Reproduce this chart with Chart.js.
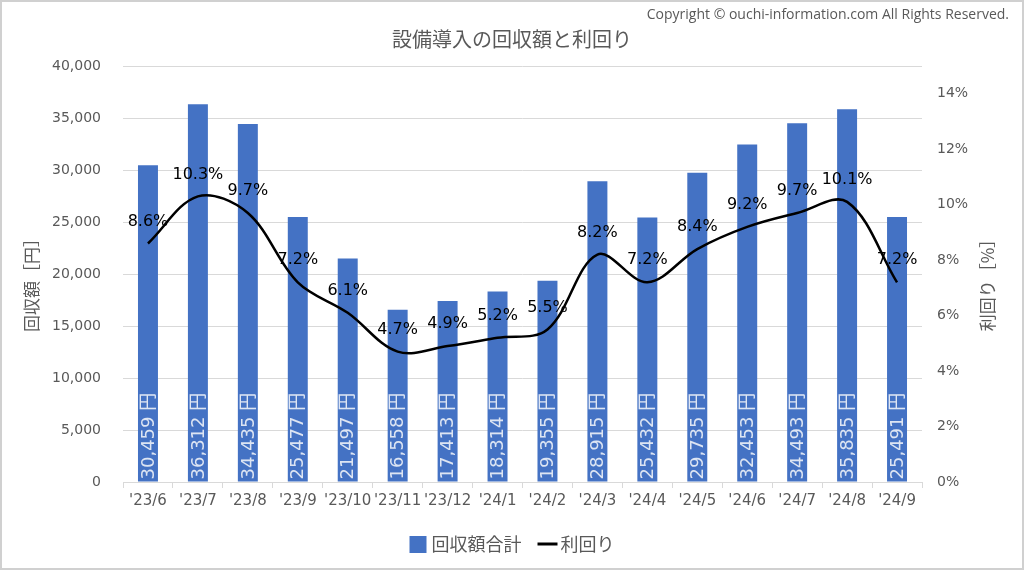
<!DOCTYPE html>
<html><head><meta charset="utf-8">
<script src="https://cdn.jsdelivr.net/npm/chart.js@4"></script>
<style>html,body{margin:0;padding:0;background:#fff}#wrap{width:1024px;height:570px;position:relative}</style>
</head><body><div id="wrap"><canvas id="c" width="1024" height="570"></canvas></div>
<script>
const categories = ["'23/6","'23/7","'23/8","'23/9","'23/10","'23/11","'23/12","'24/1","'24/2","'24/3","'24/4","'24/5","'24/6","'24/7","'24/8","'24/9"];
const recovery = [30459, 36312, 34435, 25477, 21497, 16558, 17413, 18314, 19355, 28915, 25432, 29735, 32453, 34493, 35835, 25491];
const yields = [8.6, 10.3, 9.7, 7.2, 6.1, 4.7, 4.9, 5.2, 5.5, 8.2, 7.2, 8.4, 9.2, 9.7, 10.1, 7.2];
const seriesNames = ['回収額合計', '利回り'];
const chartTitle = '設備導入の回収額と利回り';
const copyrightText = 'Copyright © ouchi-information.com All Rights Reserved.';
const leftTitle = '回収額［円］';
const rightTitle = '利回り［%］';

const NUM = '"DejaVu Sans", "Noto Sans CJK JP", sans-serif';
const JP = '"Noto Sans CJK JP", sans-serif';
const GREY = '#595959';
const BLUE = '#4472c4';

const decor = {
  id: 'decor',
  beforeDraw(chart) {
    const ctx = chart.ctx;
    ctx.save(); ctx.fillStyle = '#fff'; ctx.fillRect(0, 0, chart.width, chart.height); ctx.restore();
  },
  afterDatasetsDraw(chart) {
    const ctx = chart.ctx;
    ctx.save();
    const bm = chart.getDatasetMeta(0);
    ctx.font = '18px ' + NUM;
    ctx.fillStyle = '#dde5f3';
    ctx.textAlign = 'left';
    ctx.textBaseline = 'middle';
    bm.data.forEach((el, i) => {
      ctx.save();
      ctx.translate(el.x, el.base - 2);
      ctx.rotate(-Math.PI / 2);
      ctx.fillText(recovery[i].toLocaleString('en-US') + ' 円', 0, 1);
      ctx.restore();
    });
    const lm = chart.getDatasetMeta(1);
    ctx.font = '16px ' + NUM;
    ctx.fillStyle = '#000';
    ctx.textAlign = 'center';
    lm.data.forEach((p, i) => {
      ctx.fillText(yields[i].toFixed(1) + '%', p.x, p.y - 22);
    });
    ctx.restore();
  },
  afterDraw(chart) {
    const ctx = chart.ctx;
    ctx.save();
    ctx.fillStyle = GREY;
    ctx.textBaseline = 'middle';
    ctx.textAlign = 'center';
    ctx.font = '20px ' + JP;
    ctx.fillText(chartTitle, 512, 39);
    // axis titles (both read bottom-to-top)
    ctx.font = '17px ' + JP;
    [[leftTitle, 32], [rightTitle, 988]].forEach(([t, x]) => {
      ctx.save();
      ctx.translate(x, 281);
      ctx.rotate(-Math.PI / 2);
      ctx.fillText(t, 0, 0);
      ctx.restore();
    });
    ctx.textAlign = 'right';
    ctx.font = '14px "Open Sans", ' + JP;
    ctx.fillText(copyrightText, 1009, 15, 366);
    // legend
    ctx.font = '18px ' + JP;
    ctx.textAlign = 'left';
    const w1 = ctx.measureText(seriesNames[0]).width;
    const w2 = ctx.measureText(seriesNames[1]).width;
    const total = 17 + 5 + w1 + 16 + 20 + 3 + w2;
    let x = 512 - total / 2;
    const ly = 544;
    ctx.fillStyle = BLUE;
    ctx.fillRect(x, ly - 8, 17, 17);
    x += 22;
    ctx.fillStyle = GREY;
    ctx.fillText(seriesNames[0], x, ly);
    x += w1 + 16;
    ctx.strokeStyle = '#000'; ctx.lineWidth = 3;
    ctx.beginPath(); ctx.moveTo(x, ly); ctx.lineTo(x + 20, ly); ctx.stroke();
    x += 23;
    ctx.fillText(seriesNames[1], x, ly);
    // border
    ctx.strokeStyle = '#d0d0d0'; ctx.lineWidth = 2;
    ctx.strokeRect(1, 1, chart.width - 2, chart.height - 2);
    ctx.restore();
  }
};

new Chart(document.getElementById('c'), {
  data: {
    labels: categories,
    datasets: [
      { type: 'bar', label: seriesNames[0], data: recovery, backgroundColor: BLUE, yAxisID: 'y',
        categoryPercentage: 0.8, barPercentage: 0.5, order: 2 },
      { type: 'line', label: seriesNames[1], data: yields, borderColor: '#000', borderWidth: 2.5,
        tension: 0.35, pointRadius: 0, fill: false, yAxisID: 'y1', order: 1 }
    ]
  },
  options: {
    responsive: false, animation: false, devicePixelRatio: 1,
    layout: { padding: { top: 66, left: 0, right: 0, bottom: 0 } },
    plugins: { legend: { display: false }, title: { display: false }, tooltip: { enabled: false } },
    scales: {
      x: {
        offset: true,
        grid: { display: true, drawOnChartArea: false, drawTicks: true, tickLength: 6, color: '#d9d9d9', offset: true },
        border: { display: true, color: '#d9d9d9' },
        ticks: { color: GREY, font: { size: 15, family: NUM }, maxRotation: 0, minRotation: 0, autoSkip: false, padding: 4 },
        afterFit(s) { s.height = 88; }
      },
      y: {
        position: 'left', min: 0, max: 40000,
        ticks: { stepSize: 5000, color: GREY, font: { size: 14, family: NUM }, padding: 22,
          callback: v => Number(v).toLocaleString('en-US') },
        grid: { color: '#d9d9d9', drawTicks: false },
        border: { display: false },
        afterFit(s) { s.width = 123; }
      },
      y1: {
        position: 'right', min: 0, max: 15,
        ticks: { stepSize: 2, color: GREY, font: { size: 14, family: NUM }, padding: 15,
          callback: v => v + '%' },
        afterBuildTicks(s) { s.ticks = s.ticks.filter(t => t.value <= 14); },
        grid: { drawOnChartArea: false, drawTicks: false },
        border: { display: false },
        afterFit(s) { s.width = 102; }
      }
    }
  },
  plugins: [decor]
});
</script></body></html>
